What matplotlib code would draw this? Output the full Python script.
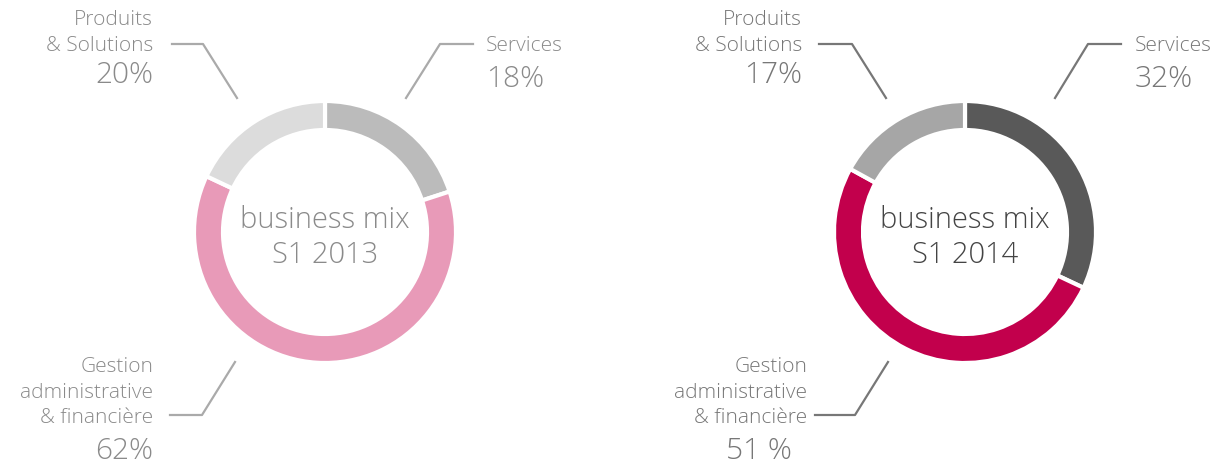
import matplotlib.pyplot as plt

# segment order: Services, Gestion administrative & financière, Produits & Solutions
segments = ["Services", "Gestion\nadministrative\n& financière", "Produits\n& Solutions"]
# wedge sizes as drawn in the picture (the 2013 ring draws Services ~20%, Produits ~18%)
values_2013 = [20, 62, 18]
values_2014 = [32, 51, 17]
pct_2013 = ["18%", "62%", "20%"]
pct_2014 = ["32%", "51 %", "17%"]
colors_2013 = ["#bbbbbb", "#e89ab8", "#dcdcdc"]
colors_2014 = ["#595959", "#c2004c", "#a6a6a6"]
titles = ["business mix\nS1 2013", "business mix\nS1 2014"]

H = 462
FONT = "Open Sans"
W = "light"

fig = plt.figure(figsize=(12.14, 4.62), dpi=100)
ax = fig.add_axes([0, 0, 1, 1])


def y(v):
    return H - v


def label(x, yy, s, size, color, ha="left", ls=1.2):
    ax.text(x, y(yy), s, ha=ha, va="baseline", fontsize=size, family=FONT,
            weight=W, color=color, multialignment=ha, linespacing=ls)


def donut(cx, values, colors, pcts, title, title_color, text_color, line_color, off):
    ax.pie(values, colors=colors, startangle=90, counterclock=False,
           center=(cx, y(232)), radius=131, frame=True,
           wedgeprops=dict(width=29, edgecolor="white", linewidth=3))

    ax.text(cx, y(238), title, ha="center", va="center", fontsize=21,
            family=FONT, weight=W, color=title_color, linespacing=1.25)

    # Services (top right)
    sx = off["serv"]
    ax.plot([cx + sx[0], cx + sx[1], cx + sx[2]], [y(98), y(44), y(44)],
            color=line_color, lw=1.6)
    label(cx + sx[3], 51, segments[0], 15, text_color)
    label(cx + sx[3], 87, pcts[0], 21.5, text_color)

    # Produits & Solutions (top left)
    px = off["prod"]
    ax.plot([cx - px[0], cx - px[1], cx - px[2]], [y(98), y(44), y(44)],
            color=line_color, lw=1.6)
    label(cx - px[3], 51, segments[2], 15, text_color, ha="right", ls=1.4)
    label(cx - px[3], 83, pcts[2], 21.5, text_color, ha="right")

    # Gestion (bottom left)
    gx = off["gest"]
    ax.plot([cx - gx[0], cx - gx[1], cx - gx[2]], [y(362), y(415), y(415)],
            color=line_color, lw=1.6)
    label(cx - gx[3], 423, segments[1], 15, text_color, ha="right", ls=1.35)
    label(cx - gx[4], 459, pcts[1], 21.5, text_color, ha="right")


off_2013 = {"serv": (81, 115, 148, 161), "prod": (88, 122, 153, 172),
            "gest": (90, 123, 155, 172, 172)}
off_2014 = {"serv": (90, 123, 156, 170), "prod": (79, 113, 146, 163),
            "gest": (77, 110, 150, 158, 173)}

donut(325, values_2013, colors_2013, pct_2013, titles[0],
      "#8a8a8a", "#8a8a8a", "#aaaaaa", off_2013)
donut(965, values_2014, colors_2014, pct_2014, titles[1],
      "#444444", "#777777", "#777777", off_2014)

ax.set_xlim(0, 1214)
ax.set_ylim(0, H)
ax.set_aspect("equal")
ax.axis("off")

fig.savefig("out.png", dpi=100)
